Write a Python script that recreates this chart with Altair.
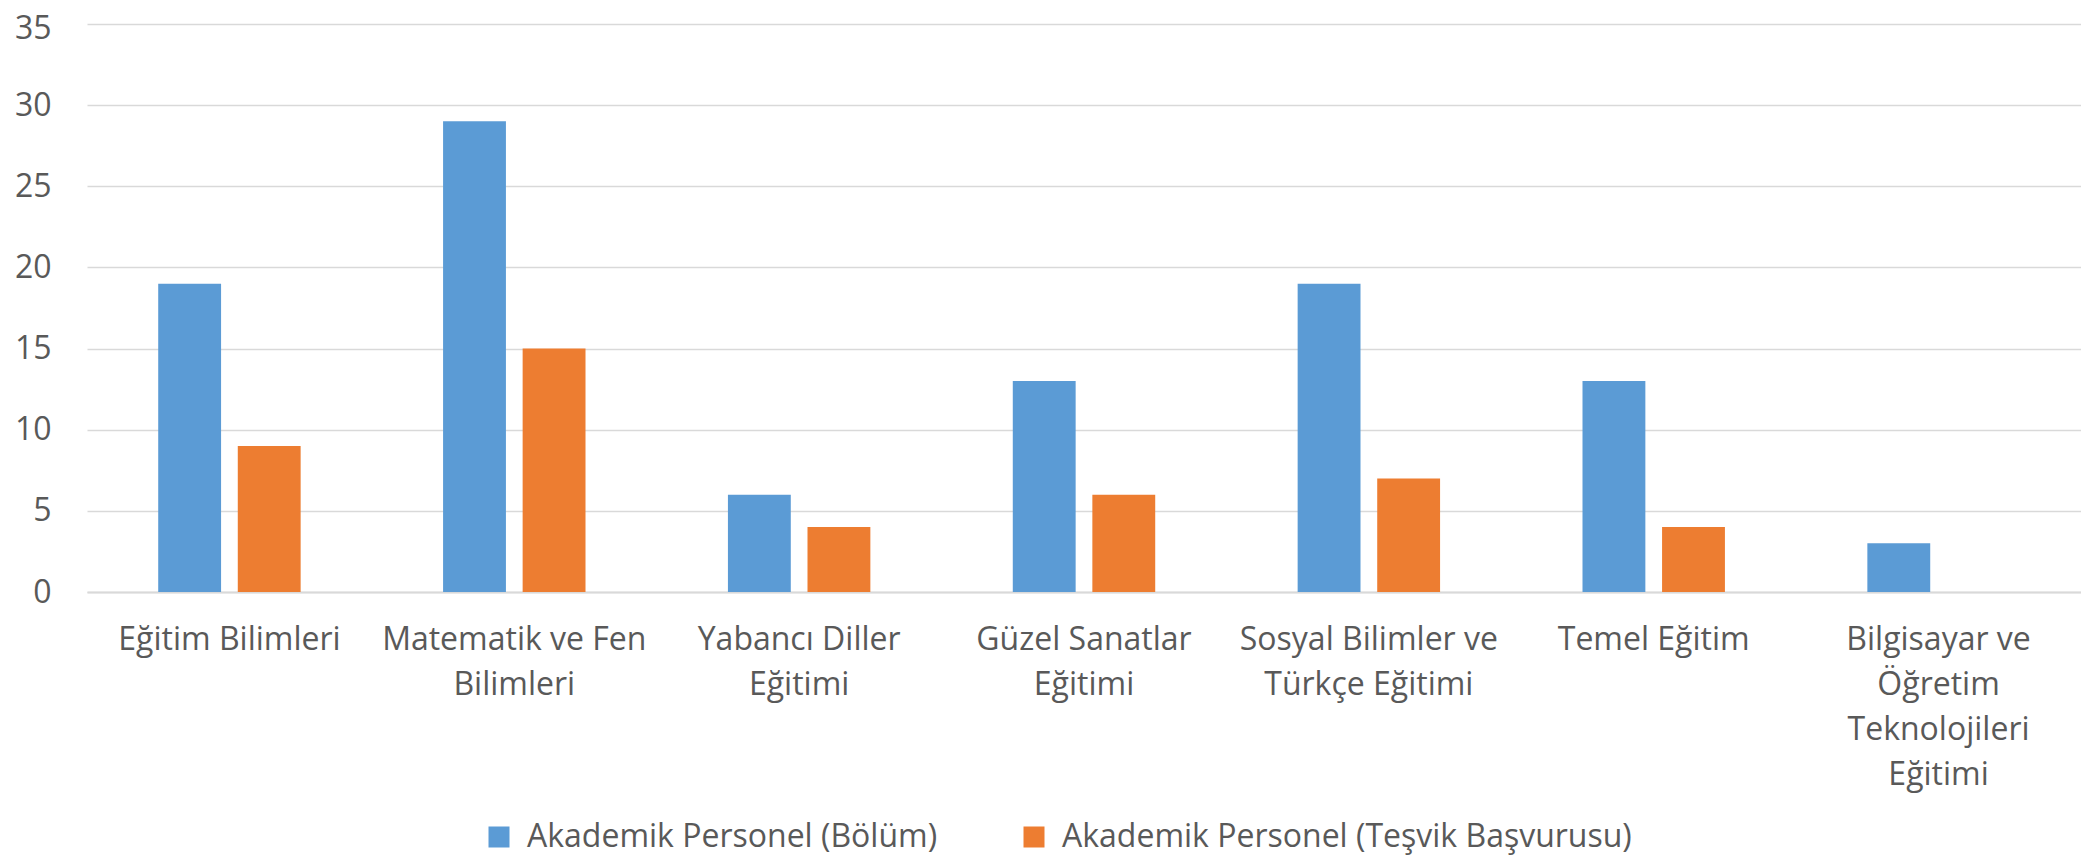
import altair as alt
import pandas as pd

categories = [
    "Eğitim Bilimleri",
    "Matematik ve Fen Bilimleri",
    "Yabancı Diller Eğitimi",
    "Güzel Sanatlar Eğitimi",
    "Sosyal Bilimler ve Türkçe Eğitimi",
    "Temel Eğitim",
    "Bilgisayar ve Öğretim Teknolojileri Eğitimi",
]
label_lines = [
    ["Eğitim Bilimleri"],
    ["Matematik ve Fen", "Bilimleri"],
    ["Yabancı Diller", "Eğitimi"],
    ["Güzel Sanatlar", "Eğitimi"],
    ["Sosyal Bilimler ve", "Türkçe Eğitimi"],
    ["Temel Eğitim"],
    ["Bilgisayar ve", "Öğretim", "Teknolojileri", "Eğitimi"],
]
series = ["Akademik Personel (Bölüm)", "Akademik Personel (Teşvik Başvurusu)"]
bolum = [19, 29, 6, 13, 19, 13, 3]
tesvik = [9, 15, 4, 6, 7, 4, 0]
colors = ["#5B9BD5", "#ED7D31"]
y_ticks = [0, 5, 10, 15, 20, 25, 30, 35]

rows = []
for c, b, t in zip(categories, bolum, tesvik):
    rows.append({"cat": c, "series": series[0], "value": b})
    rows.append({"cat": c, "series": series[1], "value": t})
df = pd.DataFrame(rows)

def js_arr(lines):
    return "[" + ",".join("'" + s + "'" for s in lines) + "]"

expr = "datum.value"
for c, lines in reversed(list(zip(categories, label_lines))):
    expr = f"datum.value == '{c}' ? {js_arr(lines)} : ({expr})"

FONT = "Open Sans"
GRAY = "#595959"

chart = (
    alt.Chart(df)
    .mark_bar()
    .encode(
        x=alt.X(
            "cat:N",
            sort=categories,
            scale=alt.Scale(paddingInner=0.5, paddingOuter=0.25),
            axis=alt.Axis(
                title=None,
                labelAngle=0,
                labelExpr=expr,
                labelFont=FONT,
                labelFontSize=32,
                labelColor=GRAY,
                labelLineHeight=45,
                labelBaseline="top",
                labelPadding=32,
                labelLimit=400,
                ticks=False,
                domain=True,
                domainColor="#d9d9d9",
                domainWidth=2,
                grid=False,
            ),
        ),
        xOffset=alt.XOffset(
            "series:N", sort=series,
            scale=alt.Scale(paddingInner=0.21, paddingOuter=0),
        ),
        y=alt.Y(
            "value:Q",
            scale=alt.Scale(domain=[0, 35], nice=False),
            axis=alt.Axis(
                title=None,
                values=y_ticks,
                labelFont=FONT,
                labelFontSize=32,
                labelColor=GRAY,
                labelPadding=36,
                labelOffset={"condition": {"test": "datum.value == 35", "value": 4}, "value": 0},
                ticks=False,
                domain=False,
                gridColor="#d9d9d9",
                gridWidth=1.5,
            ),
        ),
        color=alt.Color(
            "series:N",
            sort=series,
            scale=alt.Scale(domain=series, range=colors),
            legend=alt.Legend(
                title=None,
                orient="none",
                direction="horizontal",
                legendX=396,
                legendY=797,
                symbolType="square",
                symbolSize=441,
                symbolStrokeWidth=0,
                labelFont=FONT,
                labelFontSize=32,
                labelColor=GRAY,
                labelOffset=12,
                labelLimit=800,
                columnPadding=80,
            ),
        ),
    )
    .properties(
        width=1994,
        height=568,
        autosize=alt.AutoSizeParams(type="none"),
        padding={"left": 79, "right": 0, "top": 16, "bottom": 265},
    )
    .configure_view(stroke=None)
)

chart.save("out.html", embed_options={"renderer": "svg", "actions": False})
